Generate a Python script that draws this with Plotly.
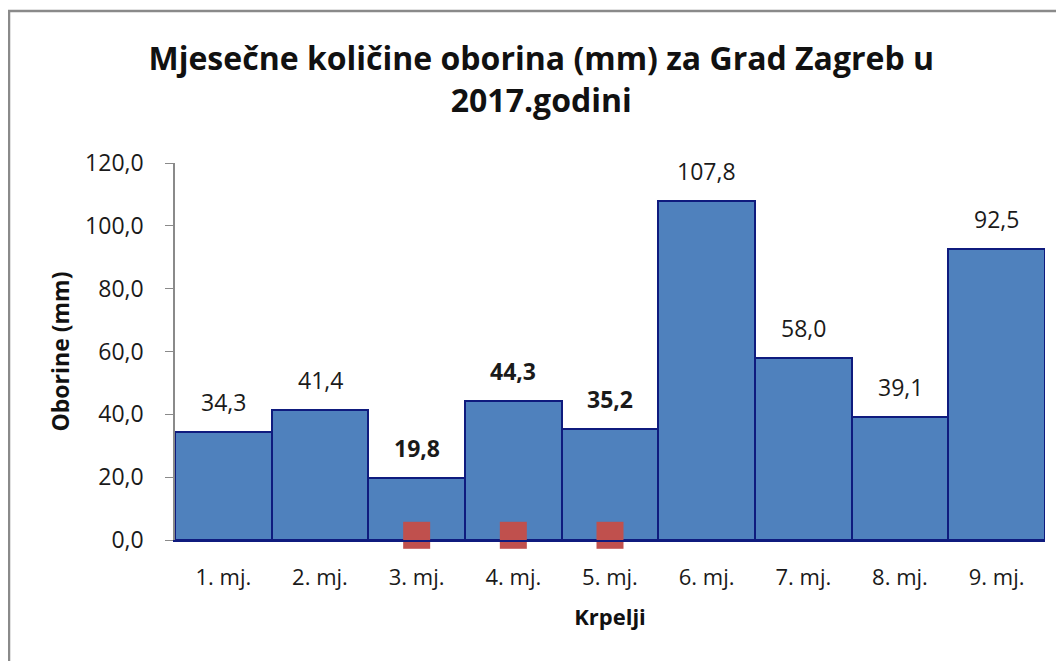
import plotly.graph_objects as go

months = ["1. mj.", "2. mj.", "3. mj.", "4. mj.", "5. mj.", "6. mj.", "7. mj.", "8. mj.", "9. mj."]
oborine = [34.3, 41.4, 19.8, 44.3, 35.2, 107.8, 58.0, 39.1, 92.5]
bold_labels = ["3. mj.", "4. mj.", "5. mj."]
krpelji_months = ["3. mj.", "4. mj.", "5. mj."]
krpelji_values = [1.5, 1.5, 1.5]

FONT = "Open Sans"
TXT = "#1a1a1a"

fig = go.Figure()
fig.add_trace(go.Bar(
    x=months, y=oborine, width=1,
    marker=dict(color="#4F81BD", line=dict(color="#0F1B7E", width=2)),
    showlegend=False, hoverinfo="x+y",
))
fig.add_trace(go.Scatter(
    x=krpelji_months, y=krpelji_values, mode="markers",
    marker=dict(symbol="square", size=27, color="#C0504D"),
    cliponaxis=False, showlegend=False,
))

annotations = []
for m, v in zip(months, oborine):
    t = f"{v:.1f}".replace(".", ",")
    if m in bold_labels:
        t = f"<b>{t}</b>"
    annotations.append(dict(
        x=m, y=v, xref="x", yref="y", text=t, showarrow=False,
        yanchor="bottom", yshift=12,
        font=dict(family=FONT, size=23, color=TXT),
    ))

fig.update_layout(
    width=1056, height=653,
    margin=dict(l=167, r=19, t=155, b=121),
    paper_bgcolor="white", plot_bgcolor="white",
    bargap=0,
    separators=", ",
    title=dict(
        text="<b>Mjesečne količine oborina (mm) za Grad Zagreb u<br>2017.godini</b>",
        x=0.505, xanchor="center", xref="container",
        y=1 - 62 / 653, yref="container", yanchor="top",
        font=dict(family=FONT, size=32, color="#111111"),
    ),
    font=dict(family=FONT, color=TXT),
    annotations=annotations,
    shapes=[dict(
        type="rect", xref="paper", yref="paper",
        x0=-0.1908, x1=1.2, y0=-0.6, y1=1.403,
        line=dict(color="#8A8A8A", width=2.5), fillcolor="rgba(0,0,0,0)", layer="below",
    )],
)
fig.update_yaxes(
    range=[0, 120], dtick=20, tickformat=".1f",
    showgrid=False, zeroline=False,
    showline=True, linecolor="#8A8A8A", linewidth=1.5,
    ticks="outside", ticklen=8, tickcolor="#8A8A8A",
    ticklabelstandoff=17,
    tickfont=dict(family=FONT, size=23, color=TXT),
    title=dict(text="<b>Oborine (mm)</b>", font=dict(family=FONT, size=23, color="#111111"), standoff=9),
)
fig.update_xaxes(
    showgrid=False, zeroline=False,
    showline=True, linecolor="#0F1B7E", linewidth=1.5,
    ticks="outside", ticklen=17, tickcolor="rgba(0,0,0,0)",
    tickfont=dict(family=FONT, size=22, color=TXT),
    title=dict(text="<b>Krpelji</b>", font=dict(family=FONT, size=22, color="#111111"), standoff=19),
)

fig.write_html("out.html")
